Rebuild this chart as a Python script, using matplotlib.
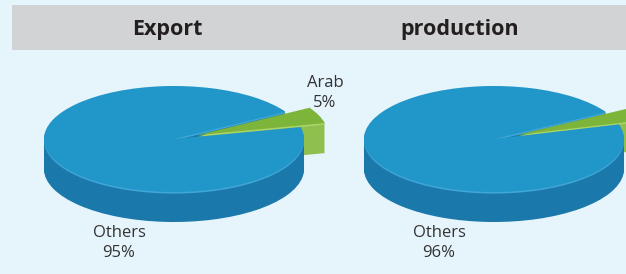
import matplotlib
matplotlib.use("Agg")
import matplotlib.pyplot as plt
from matplotlib.patches import Rectangle

# ---- data ----
titles = ["Export", "production"]
categories = ["Arab", "Others"]
export_values = [5, 95]
production_values = [4, 96]
series = [export_values, production_values]

# ---- style ----
W, H = 626, 274
DPI = 100
bg = "#e6f4fc"
band_color = "#d1d3d4"
top_colors = ["#7db43a", "#2196c9"]
side_colors = ["#8fc04e", "#1b78aa"]
plt.rcParams['font.family'] = ['Open Sans', 'DejaVu Sans']

fig = plt.figure(figsize=(W / DPI, H / DPI), dpi=DPI, facecolor=bg)

# header band
fig.patches.append(Rectangle((12 / W, 1 - 50 / H), (W - 12) / W, 45 / H,
                             transform=fig.transFigure, facecolor=band_color,
                             edgecolor="none", zorder=0))

centers_x = [174, 494]
title_x = [167, 460]
cy = 139
ax_px, ay_px = 130, 53          # pixels per unit (x, y)
depth = 30 / ay_px
startangles = [13, 16]

for k, vals in enumerate(series):
    cx = centers_x[k]
    xl = 1.7
    yb, yt = 2.2, 1.6
    left = (cx - xl * ax_px) / W
    width = 2 * xl * ax_px / W
    top_px = cy - yt * ay_px
    bottom_px = cy + yb * ay_px
    ax = fig.add_axes([left, 1 - bottom_px / H, width, (bottom_px - top_px) / H])
    ax.axis('off')
    ax.patch.set_alpha(0)
    explode = [0.2, 0.0]
    steps = 30
    for i in range(steps, 0, -1):
        off = -depth * i / steps
        ax.pie(vals, explode=explode, startangle=startangles[k], radius=1,
               center=(0, off), colors=side_colors, frame=False,
               wedgeprops=dict(linewidth=0))
    # light rim on the side
    ax.pie(vals, explode=explode, startangle=startangles[k], radius=1,
           center=(0, -0.03), colors=["#a9d46a", "#3fa6d6"], frame=False,
           wedgeprops=dict(linewidth=0))
    ax.pie(vals, explode=explode, startangle=startangles[k], radius=1,
           center=(0, 0), colors=top_colors, frame=False,
           wedgeprops=dict(linewidth=0))
    ax.set_xlim(-xl, xl)
    ax.set_ylim(-yb, yt)
    ax.set_aspect('auto')

    fig.text(title_x[k] / W, 1 - 29 / H, titles[k], ha='center', va='center',
             fontsize=15.5, fontweight='bold', color='#231f20')
    # labels
    fig.text((cx - 55) / W, 1 - 243 / H, f"{categories[1]}\n{vals[1]}%",
             ha='center', va='center', fontsize=12, color='#333333',
             linespacing=1.35)
    if k == 0:
        fig.text((cx + 151) / W, 1 - 93 / H, f"{categories[0]}\n{vals[0]}%",
                 ha='center', va='center', fontsize=12, color='#333333',
                 linespacing=1.35)

fig.savefig("out.png", dpi=DPI, facecolor=bg)
